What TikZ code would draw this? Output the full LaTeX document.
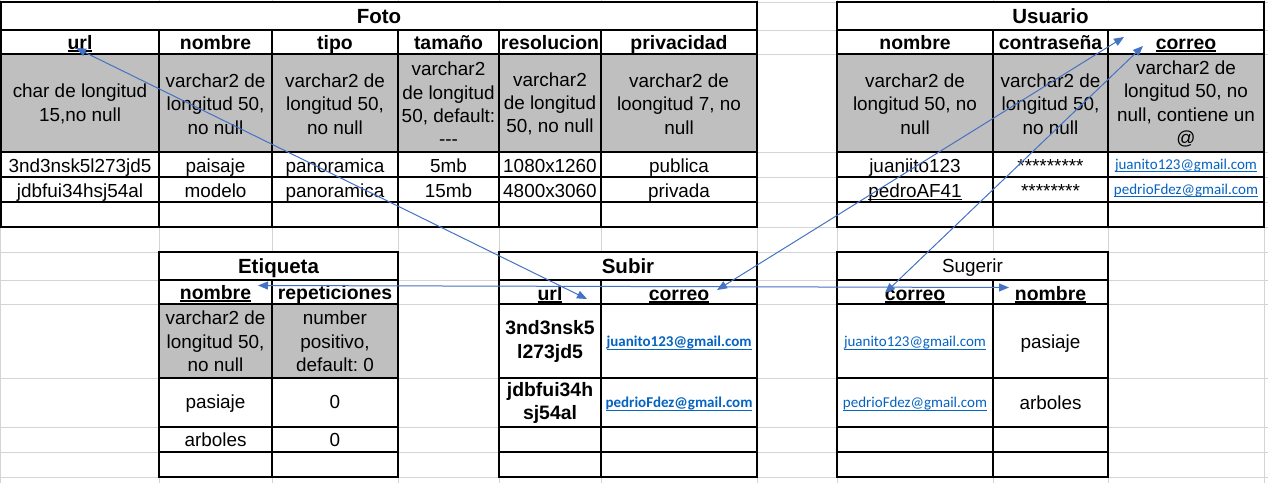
\documentclass[tikz,border=0pt]{standalone}
\usepackage{fontspec}
\setmainfont{Liberation Sans}
\newfontfamily\carlitofont{Carlito}
\usetikzlibrary{arrows.meta}
\definecolor{gridgray}{RGB}{212,212,212}
\definecolor{cellgray}{RGB}{191,191,191}
\definecolor{linkblue}{RGB}{5,99,193}
\definecolor{arrowblue}{RGB}{68,114,196}
\frenchspacing
\newcommand\fReg{\fontsize{18.9}{23.3}\selectfont\frenchspacing}
\newcommand\fHdr{\fontsize{19.4}{23.3}\selectfont\bfseries\frenchspacing}
\newcommand\fTtl{\fontsize{20.5}{24}\selectfont\bfseries}
\newcommand\fMail{\carlitofont\fontsize{15}{18}\selectfont}
\newcommand\hul[1]{\setbox0=\hbox{#1}\rlap{\rule[-2.8pt]{\wd0}{2pt}}\box0}
\newcommand\mul[1]{\setbox0=\hbox{#1}\rlap{\rule[-2.8pt]{\wd0}{1pt}}\box0}
\newcommand\tul[1]{\setbox0=\hbox{#1}\rlap{\rule[-3pt]{\wd0}{1.3pt}}\box0}
\begin{document}
\begin{tikzpicture}[x=1pt,y=-1pt,
  txt/.style={inner sep=0, font=\fReg, anchor=base},
  hdr/.style={inner sep=0, font=\fHdr, anchor=base},
  ttl/.style={inner sep=0, font=\fTtl, anchor=base},
  multi/.style={inner sep=0, font=\fReg, align=center, anchor=center},
  bmulti/.style={inner sep=0, font=\fHdr, align=center, anchor=center},
  mail/.style={inner sep=0, font=\fMail, text=linkblue, anchor=base},
  bmail/.style={inner sep=0, font=\fMail\bfseries, text=linkblue, anchor=base},
  tbl/.style={draw=black, line width=2.2pt},
  gridln/.style={draw=gridgray, line width=1pt},
  link/.style={draw=arrowblue, line width=1pt, {Triangle[length=10pt,width=8pt]}-{Triangle[length=10pt,width=8pt]}}
]
\useasboundingbox (0,0) rectangle (1268,483);
\fill[white] (0,0) rectangle (1268,483);
% spreadsheet grid
\foreach \gx in {0.5,159,272,398,499,601,757,837,993,1108,1264}
  \draw[gridln] (\gx,0) -- (\gx,483);
\foreach \gy in {2,30,54,152,177,202,227,252,280,304,378,427,452,477}
  \draw[gridln] (0,\gy) -- (1268,\gy);
% table backgrounds
\fill[white] (1,2) rectangle (757,227);
\fill[white] (837,2) rectangle (1264,227);
\fill[white] (159,252) rectangle (398,477);
\fill[white] (499,252) rectangle (757,477);
\fill[white] (837,252) rectangle (1108,477);
\fill[cellgray] (1,54) rectangle (757,152);
\fill[cellgray] (837,54) rectangle (1264,152);
\fill[cellgray] (159,304) rectangle (398,378);
% Foto borders
\draw[tbl] (1,2) rectangle (757,227);
\foreach \ry in {30,54,152,177,202} \draw[tbl] (1,\ry) -- (757,\ry);
\foreach \cx in {159,272,398,499,601} \draw[tbl] (\cx,30) -- (\cx,227);
% Usuario borders
\draw[tbl] (837,2) rectangle (1264,227);
\foreach \ry in {30,54,152,177,202} \draw[tbl] (837,\ry) -- (1264,\ry);
\foreach \cx in {993,1108} \draw[tbl] (\cx,30) -- (\cx,227);
% Etiqueta borders
\draw[tbl] (159,252) rectangle (398,477);
\foreach \ry in {280,304,378,427,452} \draw[tbl] (159,\ry) -- (398,\ry);
\draw[tbl] (272,280) -- (272,477);
% Subir borders
\draw[tbl] (499,252) rectangle (757,477);
\foreach \ry in {280,304,378,427,452} \draw[tbl] (499,\ry) -- (757,\ry);
\draw[tbl] (601,280) -- (601,477);
% Sugerir borders
\draw[tbl] (837,252) rectangle (1108,477);
\foreach \ry in {280,304,378,427,452} \draw[tbl] (837,\ry) -- (1108,\ry);
\draw[tbl] (993,280) -- (993,477);

% ---- Foto texts
\node[ttl] (fotoT) at (379,23.3) {Foto};
\node[hdr] (fH1) at (80,49.5) {\hul{url}};
\node[hdr] (fH2) at (215.5,49.5) {nombre};
\node[hdr] (fH3) at (335,49.5) {tipo};
\node[hdr] (fH4) at (448.5,49.5) {tamaño};
\node[hdr] (fH5) at (550,49.5) {resolucion};
\node[hdr] (fH6) at (679,49.5) {privacidad};
\node[multi] (fG1) at (80,104) {char de longitud\\15,no null};
\node[multi] (fG2) at (215.5,104) {varchar2 de\\longitud 50,\\no null};
\node[multi] (fG3) at (335,104) {varchar2 de\\longitud 50,\\no null};
\node[multi] (fG4) at (448.5,104) {varchar2\\de longitud\\50, default:\\-{}-{}-};
\node[multi] (fG5) at (550,104) {varchar2\\de longitud\\50, no null};
\node[multi] (fG6) at (679,104) {varchar2 de\\loongitud 7, no\\null};
\node[txt] (fA1) at (80,172.3) {3nd3nsk5l273jd5};
\node[txt] (fA2) at (215.5,172.3) {paisaje};
\node[txt] (fA3) at (335,172.3) {panoramica};
\node[txt] (fA4) at (448.5,172.3) {5mb};
\node[txt] (fA5) at (550,172.3) {1080x1260};
\node[txt] (fA6) at (679,172.3) {publica};
\node[txt] (fB1) at (80,197) {jdbfui34hsj54al};
\node[txt] (fB2) at (215.5,197) {modelo};
\node[txt] (fB3) at (335,197) {panoramica};
\node[txt] (fB4) at (448.5,197) {15mb};
\node[txt] (fB5) at (550,197) {4800x3060};
\node[txt] (fB6) at (679,197) {privada};

% ---- Usuario texts
\node[ttl] (uT) at (1050.5,23.3) {Usuario};
\node[hdr] (uH1) at (915,49.5) {nombre};
\node[hdr] (uH2) at (1050.5,49.5) {contraseña};
\node[hdr] (uH3) at (1186,49.5) {\hul{correo}};
\node[multi] (uG1) at (915,104) {varchar2 de\\longitud 50, no\\null};
\node[multi] (uG2) at (1050.5,104) {varchar2 de\\longitud 50,\\no null};
\node[multi] (uG3) at (1186,104) {varchar2 de\\longitud 50, no\\null, contiene un\\@};
\node[txt] (uA1) at (915,172.3) {juaniito123};
\node[txt] (uA2) at (1050.5,172.3) {*********};
\node[mail] (uA3) at (1186,169.3) {\mul{juanito123@gmail.com}};
\node[txt] (uB1) at (915,197) {\tul{pedroAF41}};
\node[txt] (uB2) at (1050.5,197) {********};
\node[mail] (uB3) at (1186,194.3) {\mul{pedrioFdez@gmail.com}};

% ---- Etiqueta texts
\node[ttl] (eT) at (278.5,273.3) {Etiqueta};
\node[hdr] (eH1) at (215.5,299.5) {\hul{nombre}};
\node[hdr] (eH2) at (335,299.5) {repeticiones};
\node[multi] (eG1) at (215.5,341.5) {varchar2 de\\longitud 50,\\no null};
\node[multi] (eG2) at (335,341.5) {number\\positivo,\\default: 0};
\node[txt] (eA1) at (215.5,408.5) {pasiaje};
\node[txt] (eA2) at (335,408.5) {0};
\node[txt] (eB1) at (215.5,446) {arboles};
\node[txt] (eB2) at (335,446) {0};

% ---- Subir texts
\node[ttl] (sT) at (628,273.3) {Subir};
\node[hdr] (sH1) at (550,300) {\hul{url}};
\node[hdr] (sH2) at (679,300) {\hul{correo}};
\node[bmulti] (sA1) at (550,341.5) {3nd3nsk5\\l273jd5};
\node[bmail] (sA2) at (679,346.7) {\mul{juanito123@gmail.com}};
\node[bmulti] (sB1) at (550,403) {jdbfui34h\\sj54al};
\node[bmail] (sB2) at (679,407.7) {\mul{pedrioFdez@gmail.com}};

% ---- Sugerir texts
\node[txt] (gT) at (972.5,272.7) {Sugerir};
\node[hdr] (gH1) at (915,300) {\hul{correo}};
\node[hdr] (gH2) at (1050.5,300) {\hul{nombre}};
\node[mail] (gA1) at (915,346.7) {\mul{juanito123@gmail.com}};
\node[txt] (gA2) at (1050.5,348.3) {pasiaje};
\node[mail] (gB1) at (915,407.7) {\mul{pedrioFdez@gmail.com}};
\node[txt] (gB2) at (1050.5,409.3) {arboles};

% ---- connectors
\coordinate (aFotoUrl) at (76,48);
\coordinate (aSubirUrl) at (587,299);
\coordinate (aEtiqNom) at (258,285.5);
\coordinate (aSugNom) at (1009,287.5);
\coordinate (aSubirCorreo) at (717,290);
\coordinate (aUsuCorreoA) at (1124,37);
\coordinate (aSugCorreo) at (885,293);
\coordinate (aUsuCorreoB) at (1143,46);
\draw[link] (aFotoUrl) -- (aSubirUrl);
\draw[link] (aEtiqNom) -- (aSugNom);
\draw[link] (aSubirCorreo) -- (aUsuCorreoA);
\draw[link] (aSugCorreo) -- (aUsuCorreoB);
\end{tikzpicture}
\end{document}
